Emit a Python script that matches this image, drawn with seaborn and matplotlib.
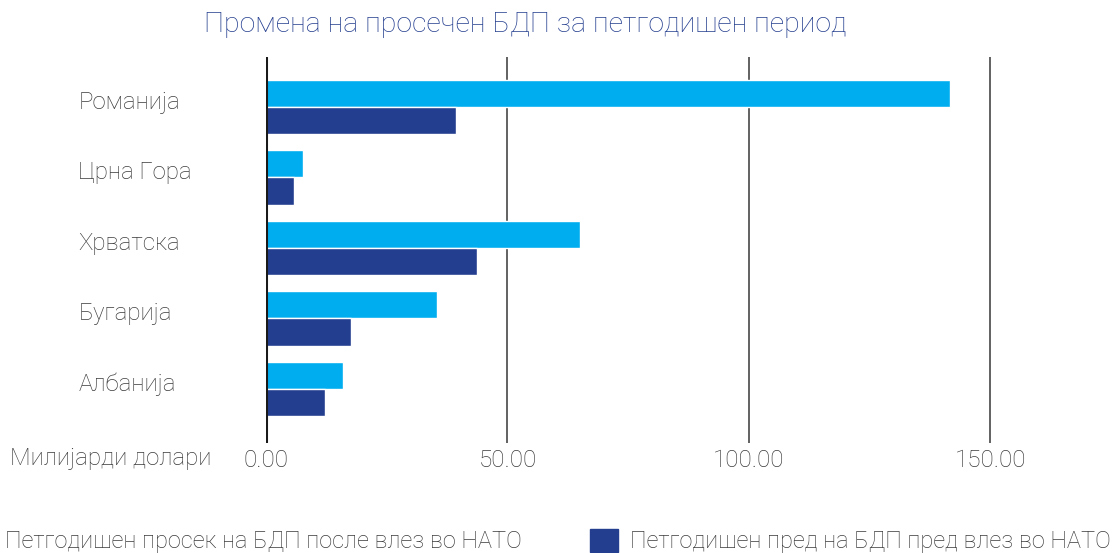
import pandas as pd
import seaborn as sns
import matplotlib.pyplot as plt
import matplotlib.transforms as mtrans

# data
countries = ["Романија", "Црна Гора", "Хрватска", "Бугарија", "Албанија"]
after_nato = [141.6, 7.7, 65.0, 35.4, 15.9]
before_nato = [39.3, 5.8, 43.7, 17.6, 12.2]
lbl_after = "Петгодишен просек на БДП после влез во НАТО"
lbl_before = "Петгодишен пред на БДП пред влез во НАТО"
x_ticks = [0, 50, 100, 150]
x_tick_labels = ["0.00", "50.00", "100.00", "150.00"]

col_light = "#00adef"
col_dark = "#243e8f"
txt_col = "#3a3a3a"

df = pd.DataFrame({
    "country": countries * 2,
    "value": after_nato + before_nato,
    "series": [lbl_after] * len(countries) + [lbl_before] * len(countries),
})

sns.set_style("white")
plt.rcParams["font.family"] = ["Roboto", "DejaVu Sans"]
plt.rcParams["font.weight"] = "light"

fig = plt.figure(figsize=(11.19, 5.53), dpi=100)
ax = fig.add_axes([266 / 1119, 1 - 443 / 553, 0.6906, (443 - 57) / 553])

sns.barplot(data=df, y="country", x="value", hue="series", orient="h",
            palette=[col_light, col_dark], width=0.77, saturation=1,
            ax=ax, legend=False)

ax.set_xlim(0, 160)
ax.set_ylim(4.766, -0.709)
ax.set_xlabel("")
ax.set_ylabel("")
for s in ax.spines.values():
    s.set_visible(False)

for xv in x_ticks:
    if xv == 0:
        ax.axvline(xv, color="#1a1a1a", lw=2.2, zorder=3)
    else:
        ax.axvline(xv, color="#555555", lw=1.3, zorder=0)

ax.set_xticks(x_ticks)
ax.set_xticklabels(x_tick_labels, fontsize=17.5, color=txt_col)
ax.tick_params(axis="x", length=0, pad=4)
ax.set_yticks(range(len(countries)))
ax.set_yticklabels(countries, fontsize=17.3, color=txt_col)
ax.tick_params(axis="y", length=0, pad=135)
shift = mtrans.ScaledTranslation(0, 7 / 100, fig.dpi_scale_trans)
for t in ax.get_yticklabels():
    t.set_horizontalalignment("left")
    t.set_transform(t.get_transform() + shift)

fig.text(10 / 1119, 1 - 458 / 553, "Милијарди долари", fontsize=17.3,
         color=txt_col, va="center", ha="left")
fig.text(525 / 1119, 1 - 25 / 553, "Промена на просечен БДП за петгодишен период",
         fontsize=20.5, color=col_dark, va="center", ha="center")

h_light = plt.Rectangle((0, 0), 1, 1, color=col_light)
h_dark = plt.Rectangle((0, 0), 1, 1, color=col_dark)
leg_kw = dict(frameon=False, borderpad=0, borderaxespad=0, handlelength=1.18,
              handleheight=1.18, handletextpad=0.5, loc="center left",
              prop={"size": 17, "weight": "light"})
leg1 = fig.legend([h_light], [lbl_after], bbox_to_anchor=(-35 / 1119, 1 - 541 / 553), **leg_kw)
leg2 = fig.legend([h_dark], [lbl_before], bbox_to_anchor=(590 / 1119, 1 - 541 / 553), **leg_kw)
for leg in (leg1, leg2):
    for t in leg.get_texts():
        t.set_color(txt_col)

fig.savefig("out.png", dpi=100)
